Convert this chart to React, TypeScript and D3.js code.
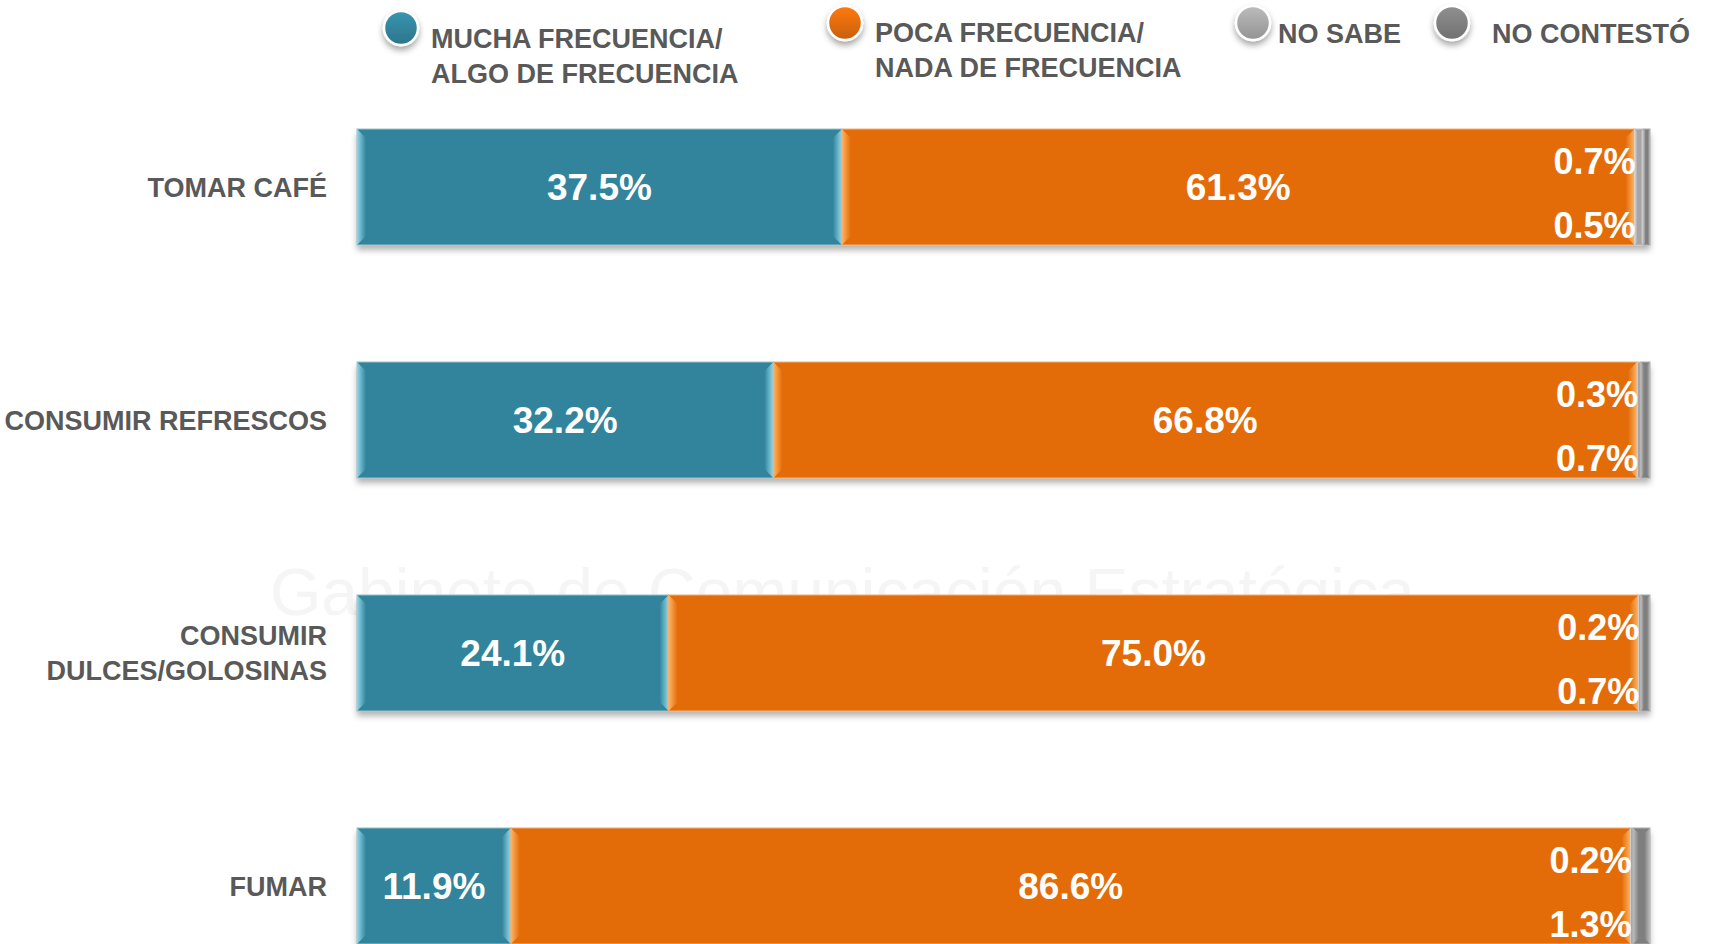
import React from "react";
import * as d3 from "d3";

const categories = ["TOMAR CAFÉ", "CONSUMIR REFRESCOS", "CONSUMIR\nDULCES/GOLOSINAS", "FUMAR"];
const mucha = [37.5, 32.2, 24.1, 11.9];
const poca = [61.3, 66.8, 75.0, 86.6];
const noSabe = [0.7, 0.3, 0.2, 0.2];
const noContesto = [0.5, 0.7, 0.7, 1.3];
const seriesNames = ["MUCHA FRECUENCIA/\nALGO DE FRECUENCIA", "POCA FRECUENCIA/\nNADA DE FRECUENCIA", "NO SABE", "NO CONTESTÓ"];

const W = 1715;
const H = 944;
const FONT = "'Liberation Sans', Arial, sans-serif";
const TEXT = "#595959";

const colors = ["#31849b", "#e36c09", "#a6a6a6", "#7f7f7f"];
const bevel = ["#93d6ea", "#ffb462", "#dcdcdc", "#bdbdbd"];
const strokes = ["#9cc4cf", "#f1b27f", "#c8c8c8", "#b0b0b0"];

function fmt(v: number) {
  return v.toFixed(1) + "%";
}

export default function App() {
  const x = d3.scaleLinear().domain([0, 100]).range([357, 1650]);
  const y = d3.scaleBand<string>().domain(categories).range([129, 944]).paddingInner(0.502).paddingOuter(0);
  const bw = y.bandwidth();
  const series = [mucha, poca, noSabe, noContesto];

  const rows = categories.map((c, i) => {
    let acc = 0;
    const segs = series.map((s, k) => {
      const x0 = acc;
      acc += s[i];
      return { k, v: s[i], x0: x(x0), x1: x(acc) };
    });
    return { c, i, y0: y(c) as number, segs };
  });

  const legend = [
    { k: 0, cx: 401, cy: 28, tx: 431, ty: 48 },
    { k: 1, cx: 845, cy: 23, tx: 875, ty: 42 },
    { k: 2, cx: 1253, cy: 23, tx: 1278, ty: 43 },
    { k: 3, cx: 1452, cy: 23, tx: 1492, ty: 43 },
  ];

  return (
    <svg width={W} height={H} style={{ position: "absolute", left: 0, top: 0, background: "#fff" }}>
      <defs>
        <filter id="shadow" x="-5%" y="-20%" width="110%" height="150%">
          <feDropShadow dx="0" dy="5" stdDeviation="3" floodColor="#000" floodOpacity="0.3" />
        </filter>
        <filter id="cshadow" x="-50%" y="-50%" width="200%" height="200%">
          <feDropShadow dx="0" dy="4" stdDeviation="3" floodColor="#000" floodOpacity="0.35" />
        </filter>
        {colors.map((c, k) => (
          <linearGradient key={k} id={`lg${k}`} x1="0" y1="0" x2="0" y2="1">
            <stop offset="0%" stopColor={d3.color(c)!.brighter(0.35).formatHex()} />
            <stop offset="100%" stopColor={d3.color(c)!.darker(0.35).formatHex()} />
          </linearGradient>
        ))}
        {bevel.map((b, k) => (
          <React.Fragment key={k}>
            <linearGradient id={`bl${k}`} x1="0" y1="0" x2="1" y2="0">
              <stop offset="0%" stopColor={b} />
              <stop offset="100%" stopColor={colors[k]} />
            </linearGradient>
            <linearGradient id={`br${k}`} x1="1" y1="0" x2="0" y2="0">
              <stop offset="0%" stopColor={b} />
              <stop offset="100%" stopColor={colors[k]} />
            </linearGradient>
          </React.Fragment>
        ))}
      </defs>

      {/* faint watermark */}
      <g fill="#f5f5f5" fontFamily={FONT}>
        <text x={270} y={615} fontSize={66}>Gabinete de Comunicación Estratégica</text>
      </g>

      {/* legend */}
      {legend.map((l) => {
        const lines = seriesNames[l.k].split("\n");
        return (
          <g key={l.k}>
            <circle cx={l.cx} cy={l.cy} r={17} fill={`url(#lg${l.k})`} stroke="#fff" strokeWidth={2.5} filter="url(#cshadow)" />
            <text x={l.tx} y={l.ty} fontFamily={FONT} fontWeight="bold" fontSize={27} fill={TEXT}>
              {lines.map((t, j) => (
                <tspan key={j} x={l.tx} dy={j === 0 ? 0 : 35}>{t}</tspan>
              ))}
            </text>
          </g>
        );
      })}

      {/* category labels */}
      {rows.map((r) => {
        const lines = r.c.split("\n");
        const cy = r.y0 + bw / 2;
        const first = cy + 10 - ((lines.length - 1) * 35) / 2;
        return (
          <text key={r.c} x={327} y={first} textAnchor="end" fontFamily={FONT} fontWeight="bold" fontSize={27} fill={TEXT}>
            {lines.map((t, j) => (
              <tspan key={j} x={327} dy={j === 0 ? 0 : 35}>{t}</tspan>
            ))}
          </text>
        );
      })}

      {/* bars */}
      {rows.map((r) => {
        const y0 = r.y0;
        const y1 = r.y0 + bw;
        return (
          <g key={r.c}>
            <rect x={x(0)} y={y0} width={x(100) - x(0)} height={bw} fill="#fff" filter="url(#shadow)" />
            {r.segs.map((s) => {
              const w = s.x1 - s.x0;
              const b = Math.min(9, w / 3);
              return (
                <g key={s.k}>
                  <rect x={s.x0} y={y0} width={w} height={bw} fill={colors[s.k]} stroke={strokes[s.k]} strokeWidth={1} />
                  <polygon
                    points={`${s.x0},${y0} ${s.x0 + b},${y0 + b} ${s.x0 + b},${y1 - b} ${s.x0},${y1}`}
                    fill={`url(#bl${s.k})`}
                  />
                  <polygon
                    points={`${s.x1},${y0} ${s.x1 - b},${y0 + b} ${s.x1 - b},${y1 - b} ${s.x1},${y1}`}
                    fill={`url(#br${s.k})`}
                  />
                </g>
              );
            })}
            {r.segs.slice(0, 2).map((s) => (
              <text
                key={`l${s.k}`}
                x={(s.x0 + s.x1) / 2}
                y={y0 + bw / 2 + 13}
                textAnchor="middle"
                fontFamily={FONT}
                fontWeight="bold"
                fontSize={37}
                fill="#fff"
              >
                {fmt(s.v)}
              </text>
            ))}
            <text x={r.segs[1].x1 + 1} y={y0 + 45} textAnchor="end" fontFamily={FONT} fontWeight="bold" fontSize={36} fill="#fff">
              {fmt(r.segs[2].v)}
            </text>
            <text x={r.segs[1].x1 + 1} y={y0 + 109} textAnchor="end" fontFamily={FONT} fontWeight="bold" fontSize={36} fill="#fff">
              {fmt(r.segs[3].v)}
            </text>
          </g>
        );
      })}
    </svg>
  );
}
